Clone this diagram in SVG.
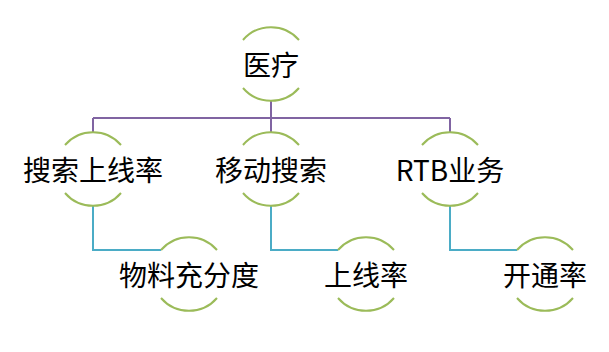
<svg xmlns="http://www.w3.org/2000/svg" width="609" height="352" viewBox="0 0 609 352">
<style>
.arc{fill:none;stroke:#9BBB59;stroke-width:2}
.lbl{font-family:"Microsoft YaHei","Noto Sans CJK SC",sans-serif;font-size:28px;fill:#000;text-anchor:middle;dominant-baseline:central}
.p{fill:none;stroke:#8064A2;stroke-width:2}
.c{fill:none;stroke:#4BACC6;stroke-width:2}
</style>
<rect width="609" height="352" fill="#fff"/>
<g id="connectors">
<path class="p" d="M271 101V118M93 118H450M93 118V132M271 118V132M450 118V132"/>
<path class="c" d="M93 206V250H161M271 206V250H338M450 206V250H517"/>
</g>
<g id="n-yiliao">
<path class="arc" d="M243 40A37 37 0 0 1 299 40M243 88A37 37 0 0 0 299 88"/>
<text class="lbl" x="271" y="64">医疗</text>
</g>
<g id="n-sousuo">
<path class="arc" d="M65 145A37 37 0 0 1 121 145M65 193A37 37 0 0 0 121 193"/>
<text class="lbl" x="93" y="169">搜索上线率</text>
</g>
<g id="n-yidong">
<path class="arc" d="M243 145A37 37 0 0 1 299 145M243 193A37 37 0 0 0 299 193"/>
<text class="lbl" x="271" y="169">移动搜索</text>
</g>
<g id="n-rtb">
<path class="arc" d="M422 145A37 37 0 0 1 478 145M422 193A37 37 0 0 0 478 193"/>
<text class="lbl" x="450" y="169">RTB业务</text>
</g>
<g id="n-wuliao">
<path class="arc" d="M161 250A37 37 0 0 1 217 250M161 298A37 37 0 0 0 217 298"/>
<text class="lbl" x="189" y="274">物料充分度</text>
</g>
<g id="n-shangxian">
<path class="arc" d="M338 250A37 37 0 0 1 394 250M338 298A37 37 0 0 0 394 298"/>
<text class="lbl" x="366" y="274">上线率</text>
</g>
<g id="n-kaitong">
<path class="arc" d="M517 250A37 37 0 0 1 573 250M517 298A37 37 0 0 0 573 298"/>
<text class="lbl" x="545" y="274">开通率</text>
</g>
</svg>
